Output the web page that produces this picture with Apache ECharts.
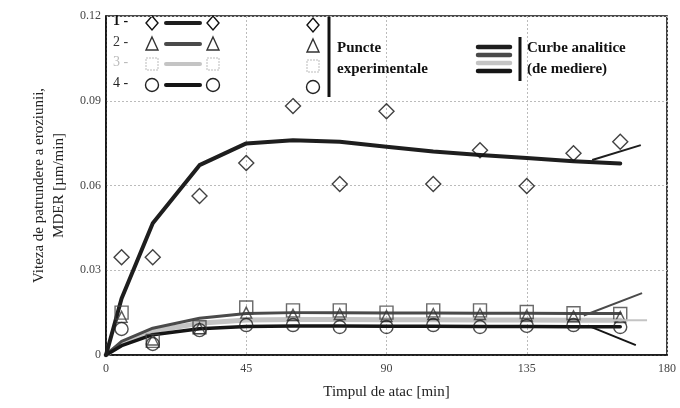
<!DOCTYPE html>
<html>
<head>
<meta charset="utf-8">
<script src="https://cdn.jsdelivr.net/npm/echarts@6/dist/echarts.min.js"></script>
<style>html,body{margin:0;padding:0;background:#fff}#c{width:680px;height:408px}</style>
</head>
<body>
<div id="c"></div>
<script>
// ---- data ----
const xTicks = [0, 45, 90, 135, 180];
const yTicks = [0, 0.03, 0.06, 0.09, 0.12];
const tPoints = [5, 15, 30, 45, 60, 75, 90, 105, 120, 135, 150, 165];
const pts1 = [0.0346, 0.0346, 0.0563, 0.0680, 0.0881, 0.0605, 0.0863, 0.0605, 0.0725, 0.0598, 0.0714, 0.0755];
const pts2 = [0.0135, 0.0055, 0.0095, 0.0150, 0.0142, 0.0145, 0.0138, 0.0145, 0.0145, 0.0140, 0.0137, 0.0134];
const pts3 = [0.0150, 0.0050, 0.0098, 0.0168, 0.0158, 0.0158, 0.0150, 0.0158, 0.0158, 0.0152, 0.0148, 0.0145];
const pts4 = [0.0092, 0.0039, 0.0088, 0.0106, 0.0106, 0.0099, 0.0099, 0.0106, 0.0099, 0.0103, 0.0106, 0.0099];
const tCurve = [0, 5, 15, 30, 45, 60, 75, 90, 105, 120, 135, 150, 165];
const curve1 = [0, 0.020, 0.0466, 0.0672, 0.0749, 0.0760, 0.0755, 0.0737, 0.0720, 0.0708, 0.0697, 0.0686, 0.0678];
const curve2 = [0, 0.0048, 0.0095, 0.0130, 0.0147, 0.0150, 0.0150, 0.0149, 0.0149, 0.0148, 0.0148, 0.0147, 0.0147];
const curve3 = [0, 0.0040, 0.0085, 0.0112, 0.0124, 0.0126, 0.0126, 0.0125, 0.0125, 0.0124, 0.0124, 0.0123, 0.0123];
const curve4 = [0, 0.0033, 0.0072, 0.0093, 0.0101, 0.0103, 0.0103, 0.0102, 0.0102, 0.0101, 0.0101, 0.0100, 0.0100];
// label leader lines [start, end] in data units
const lead1 = [[156, 0.0690], [171.6, 0.0743]];
const lead2 = [[153.3, 0.0140], [172, 0.0219]];
const lead3 = [[158.8, 0.0123], [173.6, 0.0123]];
const lead4 = [[154.6, 0.0104], [170, 0.0035]];
const curveLabels = ['1', '2', '3', '4'];

const SERIF = '"Liberation Serif","DejaVu Serif",serif';
const zip = (xs, ys) => xs.map((x, i) => [x, ys[i]]);
const C1 = '#1e1e1e', C2 = '#4a4a4a', C3 = '#c4c4c4', C4 = '#151515';

function curve(name, ys, color, width) {
  return {name, type: 'line', data: zip(tCurve, ys), symbol: 'none', smooth: false,
    lineStyle: {color, width, cap: 'round', join: 'round'}, z: 3, silent: true};
}
function pts(name, ys, symbol, color, size) {
  return {name, type: 'scatter', data: zip(tPoints, ys), symbol, symbolSize: size,
    itemStyle: {color: 'rgba(0,0,0,0)', borderColor: color, borderWidth: 1.4}, z: 4, silent: true};
}
function leader(line, label, color, lcolor) {
  return {type: 'line', data: [line[0], {value: line[1], label: {show: true, formatter: label, position: 'right', distance: 3,
      fontFamily: SERIF, fontWeight: 'bold', fontSize: 15, color: lcolor}}],
    symbol: 'none', lineStyle: {color, width: 2}, z: 5, silent: true};
}

// legend graphics
const g = [];
const rowsY = [23, 44, 64, 85];
const rowColors = ['#111', '#333', '#bbb', '#222'];
const rowLine = [C1, C2, C3, C4];
const rowBold = ['bold', 'normal', 'normal', 'normal'];
function marker(kind, cx, cy, color) {
  const s = 6;
  if (kind === 0) return {type: 'polygon', shape: {points: [[cx, cy - s - 1], [cx + s, cy], [cx, cy + s + 1], [cx - s, cy]]}, style: {fill: 'none', stroke: color, lineWidth: 1.4}};
  if (kind === 1) return {type: 'polygon', shape: {points: [[cx, cy - s - 1], [cx + s, cy + s], [cx - s, cy + s]]}, style: {fill: 'none', stroke: color, lineWidth: 1.4}};
  if (kind === 2) return {type: 'rect', shape: {x: cx - s, y: cy - s, width: 2 * s, height: 2 * s}, style: {fill: 'none', stroke: color, lineWidth: 1, lineDash: [2, 1]}};
  return {type: 'circle', shape: {cx, cy, r: s + 0.5}, style: {fill: 'none', stroke: color, lineWidth: 1.4}};
}
rowsY.forEach((y, i) => {
  g.push({type: 'text', left: 113, top: y - 9, style: {text: curveLabels[i] + ' -', font: rowBold[i] + ' 14px ' + SERIF, fill: rowColors[i]}});
  g.push(marker(i, 152, y, rowColors[i]));
  g.push({type: 'line', shape: {x1: 166, y1: y, x2: 200, y2: y}, style: {stroke: rowLine[i], lineWidth: 4, lineCap: 'round'}});
  g.push(marker(i, 213, y, rowColors[i]));
  g.push(marker(i, 313, y + 2, rowColors[i]));
});
g.push({type: 'line', shape: {x1: 329, y1: 17, x2: 329, y2: 97}, style: {stroke: '#111', lineWidth: 3}});
g.push({type: 'text', left: 337, top: 38, style: {text: 'Puncte\nexperimentale', font: 'bold 15px ' + SERIF, fill: '#111', lineHeight: 21}});
[[47, C1], [55, C2], [63, C3], [71, C4]].forEach(([y, c]) => g.push({type: 'line', shape: {x1: 478, y1: y, x2: 510, y2: y}, style: {stroke: c, lineWidth: 4.5, lineCap: 'round'}}));
g.push({type: 'line', shape: {x1: 520, y1: 37, x2: 520, y2: 81}, style: {stroke: '#111', lineWidth: 3}});
g.push({type: 'text', left: 527, top: 38, style: {text: 'Curbe analitice\n(de mediere)', font: 'bold 15px ' + SERIF, fill: '#111', lineHeight: 21}});

const chart = echarts.init(document.getElementById('c'), null, {renderer: 'canvas'});
chart.setOption({
  animation: false,
  backgroundColor: '#fff',
  grid: {left: 106, right: 13, top: 16, bottom: 53, show: true, borderColor: '#111', borderWidth: 1.6},
  xAxis: {type: 'value', min: xTicks[0], max: xTicks[xTicks.length - 1], interval: 45,
    name: 'Timpul de atac [min]', nameLocation: 'middle', nameGap: 30,
    nameTextStyle: {fontFamily: SERIF, fontSize: 15, color: '#222'},
    axisLine: {show: true, lineStyle: {color: '#111', width: 1.6}}, axisTick: {show: false},
    axisLabel: {fontFamily: SERIF, fontSize: 12, color: '#444', margin: 8, showMaxLabel: true},
    splitLine: {show: true, lineStyle: {color: '#bbb', type: [2, 2], width: 1}}},
  yAxis: {type: 'value', min: yTicks[0], max: yTicks[yTicks.length - 1], interval: 0.03,
    name: 'Viteza de patrundere a eroziunii,\nMDER [µm/min]', nameLocation: 'middle', nameGap: 37,
    nameTextStyle: {fontFamily: SERIF, fontSize: 15, color: '#222', lineHeight: 20},
    axisLine: {show: true, lineStyle: {color: '#111', width: 1.6}}, axisTick: {show: false},
    axisLabel: {fontFamily: SERIF, fontSize: 12, color: '#444', margin: 5,
      formatter: v => (v === 0 ? '0' : v.toFixed(2))},
    splitLine: {show: true, lineStyle: {color: '#bbb', type: [2, 2], width: 1}}},
  graphic: g,
  series: [
    curve('c3', curve3, C3, 5),
    curve('c2', curve2, C2, 3),
    curve('c4', curve4, C4, 3.5),
    curve('c1', curve1, C1, 4),
    pts('p1', pts1, 'diamond', '#111', 15),
    pts('p2', pts2, 'triangle', '#333', 11),
    pts('p3', pts3, 'rect', '#444', 13),
    pts('p4', pts4, 'circle', '#222', 13),
    leader(lead1, '1', C1, '#111'),
    leader(lead2, '2', C2, '#222'),
    leader(lead3, '3', C3, '#bbb'),
    leader(lead4, '4', C4, '#222')
  ]
});
</script>
</body>
</html>
